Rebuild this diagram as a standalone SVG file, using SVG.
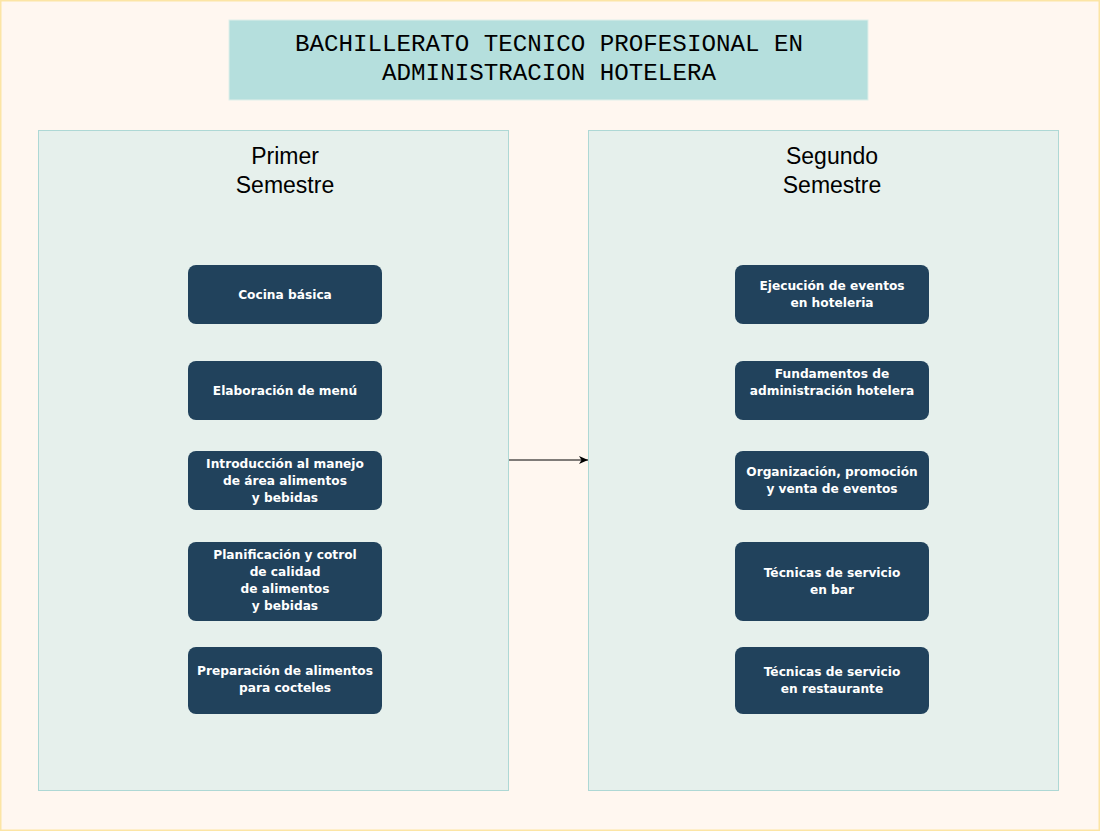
<svg xmlns="http://www.w3.org/2000/svg" width="1100" height="831" viewBox="0 0 1100 831">
<defs>
<style>
.n rect{fill:#21425c;}
.n text{fill:#ffffff;font-family:Tahoma,"DejaVu Sans","Liberation Sans",sans-serif;font-weight:bold;font-size:12.2px;text-anchor:middle;dominant-baseline:central;}
.panel{fill:#e6f0ec;stroke:#aed8d5;stroke-width:1;}
.pt{font-family:"Liberation Sans",Arial,sans-serif;font-size:23px;fill:#000;text-anchor:middle;dominant-baseline:central;}
.title{font-family:"Liberation Mono","DejaVu Sans Mono",monospace;font-size:24.2px;fill:#000;text-anchor:middle;dominant-baseline:central;}
</style>
<marker id="ah" markerWidth="10" markerHeight="8" refX="9" refY="4" orient="auto" markerUnits="userSpaceOnUse">
<path d="M0,0 L9,4 L0,8 L2.5,4 Z" fill="#000"/>
</marker>
</defs>
<rect x="0.5" y="0.5" width="1099" height="830" fill="#fff7f0" stroke="#fce5a5" stroke-width="2"/>
<g id="title">
<rect x="229" y="20" width="639" height="80" fill="#b5dfdd" stroke="#e0efe9" stroke-width="1"/>
<text class="title" x="549" y="44">BACHILLERATO TECNICO PROFESIONAL EN</text>
<text class="title" x="549" y="73">ADMINISTRACION HOTELERA</text>
</g>
<g id="panel1">
<rect class="panel" x="38.5" y="130.5" width="470" height="660"/>
<text class="pt" x="285" y="156">Primer</text>
<text class="pt" x="285" y="185">Semestre</text>
</g>
<g id="panel2">
<rect class="panel" x="588.5" y="130.5" width="470" height="660"/>
<text class="pt" x="832" y="156">Segundo</text>
<text class="pt" x="832" y="185">Semestre</text>
</g>
<g id="connectors">
<line x1="509" y1="460" x2="588" y2="460" stroke="#000" stroke-width="1" marker-end="url(#ah)"/>
</g>
<g id="l1" class="n"><rect x="188" y="265" width="194" height="59" rx="8"/><text x="285" y="295">Cocina básica</text></g>
<g id="l2" class="n"><rect x="188" y="361" width="194" height="59" rx="8"/><text x="285" y="391">Elaboración de menú</text></g>
<g id="l3" class="n"><rect x="188" y="451" width="194" height="59" rx="8"/><text x="285" y="464">Introducción al manejo</text><text x="285" y="481">de área alimentos</text><text x="285" y="498">y bebidas</text></g>
<g id="l4" class="n"><rect x="188" y="542" width="194" height="79" rx="8"/><text x="285" y="555">Planificación y cotrol</text><text x="285" y="572">de calidad</text><text x="285" y="589">de alimentos</text><text x="285" y="606">y bebidas</text></g>
<g id="l5" class="n"><rect x="188" y="647" width="194" height="67" rx="8"/><text x="285" y="671">Preparación de alimentos</text><text x="285" y="688">para cocteles</text></g>
<g id="r1" class="n"><rect x="735" y="265" width="194" height="59" rx="8"/><text x="832" y="286">Ejecución de eventos</text><text x="832" y="303">en hoteleria</text></g>
<g id="r2" class="n"><rect x="735" y="361" width="194" height="59" rx="8"/><text x="832" y="374">Fundamentos de</text><text x="832" y="391">administración hotelera</text></g>
<g id="r3" class="n"><rect x="735" y="451" width="194" height="59" rx="8"/><text x="832" y="472">Organización, promoción</text><text x="832" y="489">y venta de eventos</text></g>
<g id="r4" class="n"><rect x="735" y="542" width="194" height="79" rx="8"/><text x="832" y="573">Técnicas de servicio</text><text x="832" y="590">en bar</text></g>
<g id="r5" class="n"><rect x="735" y="647" width="194" height="67" rx="8"/><text x="832" y="672">Técnicas de servicio</text><text x="832" y="689">en restaurante</text></g>
</svg>
